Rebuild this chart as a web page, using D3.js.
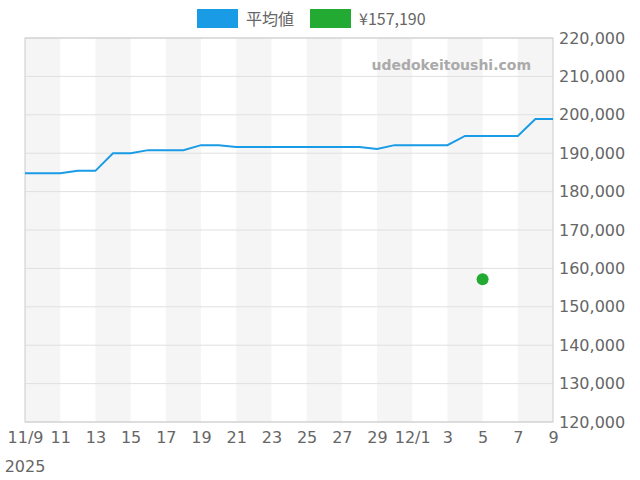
<!DOCTYPE html>
<html><head><meta charset="utf-8">
<script src="https://cdn.jsdelivr.net/npm/d3@7"></script>
<style>body{margin:0;background:#fff}text{font-family:"DejaVu Sans",sans-serif}</style>
</head><body><svg id="c" width="640" height="480"></svg>
<script>
// daily average price, 11/9 .. 12/9
const dates = ["2025-11-09","2025-11-10","2025-11-11","2025-11-12","2025-11-13","2025-11-14","2025-11-15","2025-11-16","2025-11-17","2025-11-18","2025-11-19","2025-11-20","2025-11-21","2025-11-22","2025-11-23","2025-11-24","2025-11-25","2025-11-26","2025-11-27","2025-11-28","2025-11-29","2025-11-30","2025-12-01","2025-12-02","2025-12-03","2025-12-04","2025-12-05","2025-12-06","2025-12-07","2025-12-08","2025-12-09"];
const avgValues = [184800,184800,184800,185400,185400,190000,190000,190800,190800,190800,192100,192100,191600,191600,191600,191600,191600,191600,191600,191600,191100,192100,192100,192100,192100,194500,194500,194500,194500,198900,198900];
const pointDate = "2025-12-05", pointValue = 157190;
const xTicks = ["2025-11-09","2025-11-11","2025-11-13","2025-11-15","2025-11-17","2025-11-19","2025-11-21","2025-11-23","2025-11-25","2025-11-27","2025-11-29","2025-12-01","2025-12-03","2025-12-05","2025-12-07","2025-12-09"];
const yTicks = d3.range(120000, 220001, 10000);

const parse = d3.utcParse("%Y-%m-%d");
const svg = d3.select("#c");
const x = d3.scaleUtc().domain([parse(dates[0]), parse(dates[dates.length-1])]).range([25, 553]);
const y = d3.scaleLinear().domain([120000, 220000]).range([422, 38]);

// alternating bands
for (let i = 0; i < xTicks.length - 1; i += 2) {
  svg.append("rect").attr("x", x(parse(xTicks[i]))).attr("y", 38)
    .attr("width", x(parse(xTicks[i+1])) - x(parse(xTicks[i]))).attr("height", 384).attr("fill", "#f5f5f5");
}
svg.selectAll(".g").data(yTicks).enter().append("line")
  .attr("x1", 25).attr("x2", 553).attr("y1", d => y(d)).attr("y2", d => y(d))
  .attr("stroke", "#e0e0e0");
svg.append("rect").attr("x", 25).attr("y", 38).attr("width", 528).attr("height", 384)
  .attr("fill", "none").attr("stroke", "#ccc");

svg.append("text").attr("x", 531).attr("y", 70).attr("text-anchor", "end")
  .attr("fill", "#aaa").attr("font-weight", "bold").attr("font-size", 14).text("udedokeitoushi.com");

svg.append("g").attr("transform", "translate(553,0)")
  .call(d3.axisRight(y).tickValues(yTicks).tickFormat(d3.format(",")).tickSize(0).tickPadding(6))
  .call(g => g.select(".domain").remove())
  .selectAll("text").attr("fill", "#666").attr("font-size", 16);

const fmt = d => d.getUTCDate() === 1 || +d === +parse(dates[0]) ? (d.getUTCMonth()+1) + "/" + d.getUTCDate() : "" + d.getUTCDate();
const xa = svg.append("g").attr("transform", "translate(0,422)")
  .call(d3.axisBottom(x).tickValues(xTicks.map(parse)).tickFormat(fmt).tickSize(0).tickPadding(10));
xa.select(".domain").remove();
xa.selectAll("text").attr("fill", "#666").attr("font-size", 16);
svg.append("text").attr("x", 25).attr("y", 472).attr("text-anchor", "middle")
  .attr("fill", "#666").attr("font-size", 16).text("2025");

svg.append("path").datum(dates.map((d, i) => [parse(d), avgValues[i]]))
  .attr("fill", "none").attr("stroke", "#1a9be6").attr("stroke-width", 2)
  .attr("d", d3.line().x(d => x(d[0])).y(d => y(d[1])));
svg.append("circle").attr("cx", x(parse(pointDate))).attr("cy", y(pointValue)).attr("r", 6).attr("fill", "#22aa33");

// legend
const legend = [["平均値", "#1a9be6", 197], ["¥" + d3.format(",")(pointValue), "#22aa33", 310]];
legend.forEach(([t, c, lx]) => {
  svg.append("rect").attr("x", lx).attr("y", 9).attr("width", 41).attr("height", 19).attr("fill", c);
  svg.append("text").attr("x", lx + 49).attr("y", 25).attr("fill", "#666").attr("font-size", 16)
    .style("font-family", "'Noto Sans CJK JP',sans-serif").text(t);
});
</script></body></html>
